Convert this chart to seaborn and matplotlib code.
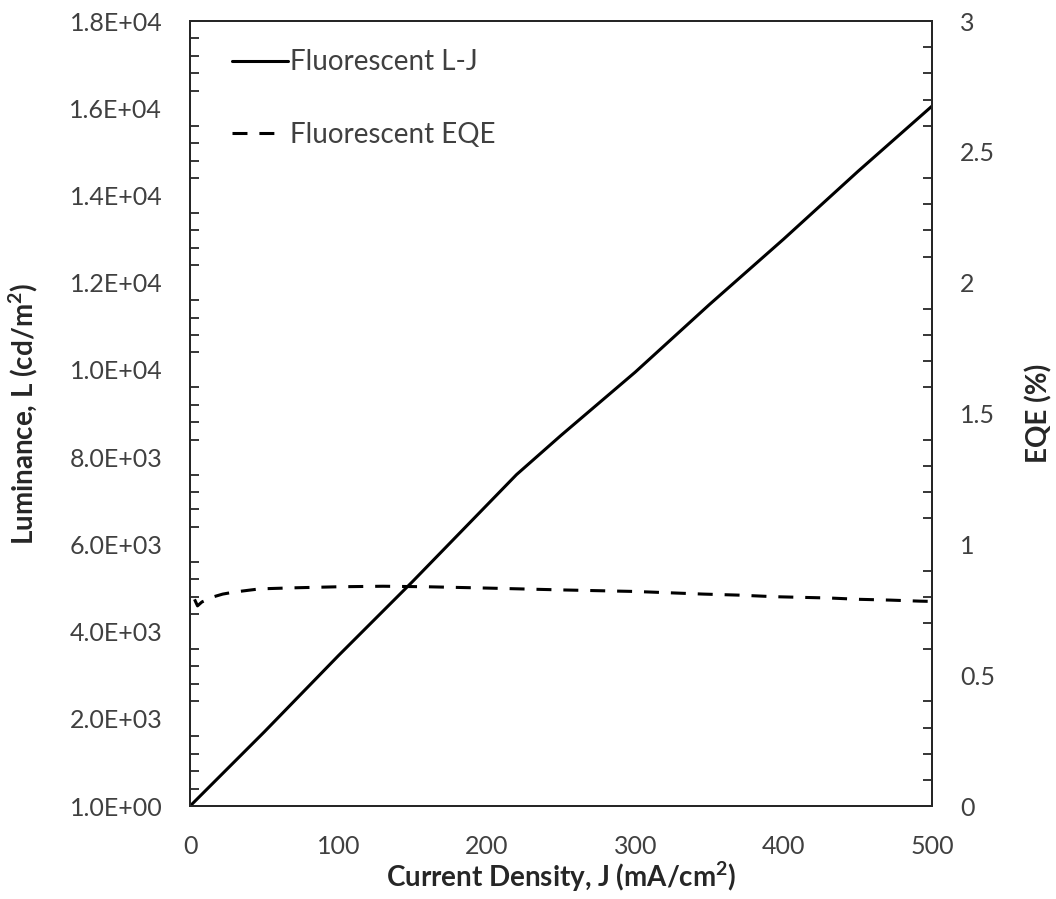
import matplotlib
matplotlib.use("Agg")
import matplotlib.pyplot as plt
import seaborn as sns
import pandas as pd
from matplotlib.ticker import MultipleLocator, FixedLocator, FixedFormatter

# Luminance vs current density
j_lum = [0, 50, 100, 150, 200, 220, 250, 300, 350, 400, 450, 500]
luminance = [0, 1700, 3450, 5150, 6900, 7600, 8500, 9950, 11500, 13000, 14550, 16050]

# External quantum efficiency vs current density
j_eqe = [3, 5, 8, 12, 16, 22, 30, 47, 70, 100, 130, 160, 200, 250, 300, 346, 370, 394, 431, 451, 472, 492, 500]
eqe = [0.79, 0.765, 0.78, 0.79, 0.80, 0.81, 0.818, 0.83, 0.834, 0.838, 0.84, 0.838, 0.833, 0.826, 0.82, 0.81, 0.806, 0.80, 0.795, 0.79, 0.787, 0.783, 0.782]

left_ticks = [0, 2000, 4000, 6000, 8000, 10000, 12000, 14000, 16000, 18000]
left_tick_labels = ["1.0E+00", "2.0E+03", "4.0E+03", "6.0E+03", "8.0E+03",
                    "1.0E+04", "1.2E+04", "1.4E+04", "1.6E+04", "1.8E+04"]
right_ticks = [0, 0.5, 1, 1.5, 2, 2.5, 3]
right_tick_labels = ["0", "0.5", "1", "1.5", "2", "2.5", "3"]
x_ticks = [0, 100, 200, 300, 400, 500]

sns.set_theme(style="white")
plt.rcParams["font.family"] = ["Lato", "DejaVu Sans"]
plt.rcParams["mathtext.default"] = "regular"

df_lum = pd.DataFrame({"J": j_lum, "L": luminance})
df_eqe = pd.DataFrame({"J": j_eqe, "EQE": eqe})

fig = plt.figure(figsize=(10.56, 8.99), dpi=100)
ax = fig.add_axes([0.18, 0.1034, 0.7026, 0.8732])
ax2 = ax.twinx()

sns.lineplot(data=df_lum, x="J", y="L", ax=ax, color="black", linewidth=2.2,
             label="Fluorescent L-J", legend=False)
sns.lineplot(data=df_eqe, x="J", y="EQE", ax=ax2, color="black", linewidth=2.2,
             label="Fluorescent EQE", legend=False)
ax2.lines[0].set_dashes([4.9, 3.9])

tick_color = "#404040"
for a in (ax, ax2):
    for s in a.spines.values():
        s.set_color("#262626")
        s.set_linewidth(1.4)

ax.set_xlim(0, 500)
ax.set_ylim(0, 18000)
ax2.set_ylim(0, 3)

ax.xaxis.set_major_locator(FixedLocator(x_ticks))
ax.xaxis.set_minor_locator(MultipleLocator(20))
ax.yaxis.set_major_locator(FixedLocator(left_ticks))
ax.yaxis.set_major_formatter(FixedFormatter(left_tick_labels))
ax.yaxis.set_minor_locator(MultipleLocator(400))
ax2.yaxis.set_major_locator(FixedLocator(right_ticks))
ax2.yaxis.set_major_formatter(FixedFormatter(right_tick_labels))
ax2.yaxis.set_minor_locator(MultipleLocator(0.1))

ax.tick_params(axis="both", which="both", direction="in", colors="#262626",
               labelcolor=tick_color, labelsize=18, width=1.3)
ax.tick_params(axis="both", which="major", length=0, pad=20)
ax.tick_params(axis="both", which="minor", length=6.5)
ax.tick_params(axis="x", which="major", pad=21)
ax2.tick_params(axis="y", which="both", direction="in", colors="#262626",
                labelcolor=tick_color, labelsize=18, width=1.3)
ax2.tick_params(axis="y", which="major", length=0, pad=20)
ax2.tick_params(axis="y", which="minor", length=6.5)

ax.set_xlabel("Current Density, J (mA/cm$^2$)", fontsize=20, fontweight="bold")
ax.set_ylabel("Luminance, L (cd/m$^2$)", fontsize=20, fontweight="bold")
ax2.set_ylabel("EQE (%)", fontsize=20, fontweight="bold")
ax.xaxis.set_label_coords(0.5, -0.068)
ax.yaxis.set_label_coords(-0.202, 0.5)
ax2.yaxis.set_label_coords(1.1253, 0.5)

h1, l1 = ax.get_legend_handles_labels()
h2, l2 = ax2.get_legend_handles_labels()
leg = ax.legend(h1 + h2, l1 + l2, loc="upper left", bbox_to_anchor=(0.0566, 0.964),
                frameon=False, fontsize=20, handlelength=2.0, handletextpad=0.07,
                labelspacing=1.68, borderpad=0, borderaxespad=0, labelcolor=tick_color)
# two dashes in the legend sample, then a long gap up to the text
leg.get_lines()[1].set_dashes([4.9, 3.9, 4.9, 30])

fig.savefig("out.png", dpi=100, facecolor="white")
